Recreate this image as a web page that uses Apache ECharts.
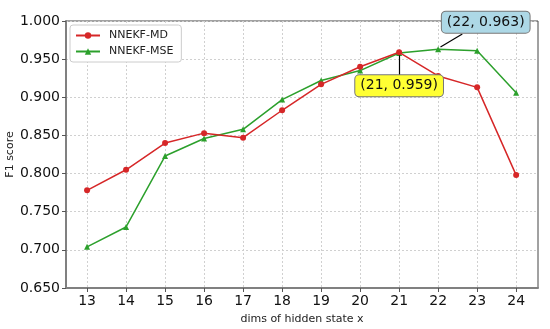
<!DOCTYPE html>
<html><head><meta charset="utf-8">
<script src="https://cdn.jsdelivr.net/npm/echarts@6/dist/echarts.min.js"></script>
<style>html,body{margin:0;padding:0;background:#fff}#c{width:550px;height:329px}</style>
</head><body><div id="c"></div>
<script>
var dims = [13,14,15,16,17,18,19,20,21,22,23,24];
var mdValues = [0.778,0.805,0.840,0.853,0.847,0.883,0.917,0.940,0.959,0.928,0.913,0.798];
var mseValues = [0.704,0.730,0.823,0.846,0.858,0.897,0.922,0.935,0.958,0.963,0.961,0.906];
var yTicks = [0.65,0.70,0.75,0.80,0.85,0.90,0.95,1.00];

function pairs(xs, ys){ return xs.map(function(x,i){return [x, ys[i]];}); }
var FONT = 'DejaVu Sans';
var chart = echarts.init(document.getElementById('c'));
chart.setOption({
  animation:false,
  textStyle:{fontFamily:FONT},
  grid:{left:66,right:12,top:21,bottom:41,containLabel:false,outerBoundsMode:'none',show:true,borderColor:'#444',borderWidth:1,backgroundColor:'transparent'},
  legend:{
    left:70, top:25, orient:'vertical', padding:[5,8,5,5], itemGap:5,
    backgroundColor:'#fff', borderColor:'#ccc', borderWidth:1, borderRadius:3,
    itemWidth:24, itemHeight:8,
    textStyle:{fontFamily:FONT,fontSize:11,color:'#222',padding:[0,0,0,4]},
    data:['NNEKF-MD','NNEKF-MSE']
  },
  xAxis:{
    type:'value', min:12.46, max:24.56,
    name:'dims of hidden state x', nameLocation:'middle', nameGap:26, nameMoveOverlap:false,
    nameTextStyle:{fontFamily:FONT,fontSize:11,color:'#222'},
    axisLine:{show:true,lineStyle:{color:'#808080',width:2}},
    axisTick:{show:true,length:4,customValues:dims,lineStyle:{color:'#555'}},
    axisLabel:{customValues:dims,fontFamily:FONT,fontSize:14,color:'#111',margin:6},
    splitLine:{show:true,lineStyle:{color:'#d0d0d0',type:[2,2],width:1}}
  },
  yAxis:{
    type:'value', min:0.65, max:1.0, interval:0.05,
    name:'F1 score', nameLocation:'middle', nameGap:50, nameMoveOverlap:false,
    nameTextStyle:{fontFamily:FONT,fontSize:11,color:'#222'},
    axisLine:{show:true,lineStyle:{color:'#808080',width:2}},
    axisTick:{show:true,length:4,lineStyle:{color:'#555'}},
    axisLabel:{fontFamily:FONT,fontSize:14,color:'#111',margin:6,formatter:function(v){return v.toFixed(3);}},
    splitLine:{show:true,lineStyle:{color:'#d0d0d0',type:[2,2],width:1}}
  },
  series:[
    {name:'NNEKF-MD',type:'line',data:pairs(dims,mdValues),symbol:'circle',symbolSize:6,
     lineStyle:{color:'#d62728',width:1.5},itemStyle:{color:'#d62728'},z:3,
     markPoint:{symbol:'rect',symbolSize:0,silent:true,data:[
       {coord:[21,0.915],label:{show:true,position:'inside',formatter:'(21, 0.959)',fontFamily:FONT,fontSize:14,color:'#111',
        backgroundColor:'#ffff33',borderColor:'#777',borderWidth:1,borderRadius:4,padding:[4,5,3,5]}}
     ]},
     markLine:{silent:true,symbol:['none','arrow'],symbolSize:[0,8],label:{show:false},lineStyle:{color:'#000',width:1.2,type:'solid'},data:[
       [{coord:[21,0.929]},{coord:[21,0.955]}]
     ]}
    },
    {name:'NNEKF-MSE',type:'line',data:pairs(dims,mseValues),symbol:'triangle',symbolSize:6,
     lineStyle:{color:'#2ca02c',width:1.5},itemStyle:{color:'#2ca02c'},z:2,
     markPoint:{symbol:'rect',symbolSize:0,silent:true,data:[
       {coord:[23.22,0.9985],label:{show:true,position:'inside',formatter:'(22, 0.963)',fontFamily:FONT,fontSize:14,color:'#111',
        backgroundColor:'#add8e6',borderColor:'#777',borderWidth:1,borderRadius:4,padding:[4,5,3,5]}}
     ]},
     markLine:{silent:true,symbol:['none','arrow'],symbolSize:[0,8],label:{show:false},lineStyle:{color:'#000',width:1.2,type:'solid'},data:[
       [{coord:[22.62,0.983]},{coord:[22.06,0.966]}]
     ]}
    }
  ]
});
</script></body></html>
